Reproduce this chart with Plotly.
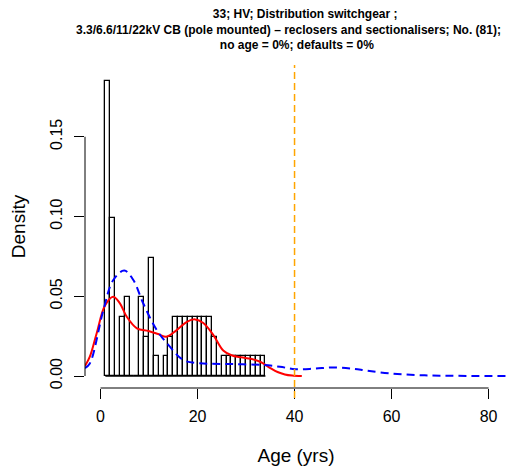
import plotly.graph_objects as go

# histogram of asset ages, 1-year bins starting at 1
bin_left = list(range(1, 34))
bin_count = [15, 8, 0, 3, 4, 0, 0, 4, 2, 6, 1, 0, 1, 2,
             3, 3, 3, 3, 3, 3, 3, 3, 2, 0,
             1, 1, 1, 1, 1, 1, 1, 1, 1]
n_assets = 81

# red smooth curve
red_age = [-3.2, -2.2, -0.8, 0.9, 2.6, 4.0, 5.4, 7.5, 9.9, 11.9, 13.6, 15.7, 17.8,
           19.5, 21.2, 23.3, 25.3, 27.0, 29.0, 31.0, 33.0, 35.0, 36.5, 38.0, 39.5, 41.5]
red_dens = [0.0063, 0.0121, 0.0267, 0.0440, 0.0497, 0.0456, 0.0372, 0.0299, 0.0282,
            0.0263, 0.0246, 0.0288, 0.0340, 0.0355, 0.0332, 0.0255, 0.0160, 0.0130,
            0.0117, 0.0108, 0.0088, 0.0050, 0.0025, 0.0010, 0.0003, 0.0]

# blue dashed curve
blue_age = [-3.2, -2.2, 0.6, 2.6, 4.9, 6.8, 8.8, 11.6, 14.3, 17.1, 20.5, 26.7, 33.6,
            37.0, 40.1, 44.0, 48.0, 52.0, 55.0, 60.0, 65.2, 70.0, 83.7]
blue_dens = [0.0050, 0.0079, 0.0414, 0.0600, 0.0662, 0.0600, 0.0456, 0.0288, 0.0184,
             0.0100, 0.0080, 0.0075, 0.0069, 0.0058, 0.0043, 0.0046, 0.0054, 0.0046,
             0.0033, 0.0015, 0.0006, 0.0002, 0.0]

cutoff_age = 40

x_ticks = [0, 20, 40, 60, 80]
y_ticks = [0.00, 0.05, 0.10, 0.15]
y_tick_text = ["0.00", "0.05", "0.10", "0.15"]

nb = "&nbsp;"
title_lines = [
    nb * 10 + "33; HV; Distribution switchgear ;",
    "3.3/6.6/11/22kV CB (pole mounted) \u2013 reclosers and sectionalisers; No. (81);",
    nb * 5 + "no age = 0%; defaults = 0%",
]

font = "Liberation Sans, Arial, Helvetica, sans-serif"

# page body has an 8px margin, so the figure is a bit smaller than the window
W, H = 509, 465

fig = go.Figure()

fig.add_trace(go.Bar(
    x=[b + 0.5 for b in bin_left],
    y=[c / n_assets for c in bin_count],
    width=1,
    marker=dict(color="white", line=dict(color="black", width=1.3)),
))

fig.add_trace(go.Scatter(x=red_age, y=red_dens, mode="lines", line_shape="spline",
                         line=dict(color="red", width=2)))
fig.add_trace(go.Scatter(x=blue_age, y=blue_dens, mode="lines", line_shape="spline",
                         line=dict(color="blue", width=2, dash="8px,5px")))

# orange vertical cut-off line
fig.add_shape(type="line", xref="x", yref="paper", x0=cutoff_age, x1=cutoff_age,
              y0=-0.031, y1=1, line=dict(color="orange", width=1.5, dash="7px,4px"))

# R style axis lines, only between outer ticks
fig.add_shape(type="line", xref="x", yref="paper", x0=x_ticks[0], x1=x_ticks[-1],
              y0=0, y1=0, line=dict(color="black", width=1))
fig.add_shape(type="line", xref="paper", yref="y", x0=0, x1=0,
              y0=y_ticks[0], y1=y_ticks[-1], line=dict(color="black", width=1))
# baseline under the histogram
fig.add_shape(type="line", xref="x", yref="y", x0=bin_left[0], x1=bin_left[-1] + 1,
              y0=0, y1=0, line=dict(color="black", width=1.3))

fig.update_layout(
    width=W, height=H,
    margin=dict(l=77, r=10, t=57, b=85, autoexpand=False),
    plot_bgcolor="white", paper_bgcolor="white",
    showlegend=False,
    font=dict(family=font, size=16, color="black"),
    title=dict(text="<br>".join("<b>%s</b>" % t for t in title_lines),
               x=280.5 / W, xanchor="center", y=1 - 10 / H, yanchor="top",
               font=dict(size=12, family=font, color="black")),
    xaxis=dict(range=[-3.196, 83.8], tickvals=x_ticks, showgrid=False, zeroline=False,
               showline=False, ticks="outside", ticklen=10, tickcolor="black",
               ticklabelstandoff=4, automargin=False,
               title=dict(text="Age (yrs)", standoff=24)),
    yaxis=dict(range=[-0.00752, 0.195], tickvals=y_ticks, ticktext=y_tick_text,
               showgrid=False, zeroline=False, showline=False, ticks="outside",
               ticklen=10, tickcolor="black", tickangle=-90, ticklabelstandoff=6,
               automargin=False,
               title=dict(text="Density", standoff=16)),
    bargap=0,
)

fig.write_html("out.html")
